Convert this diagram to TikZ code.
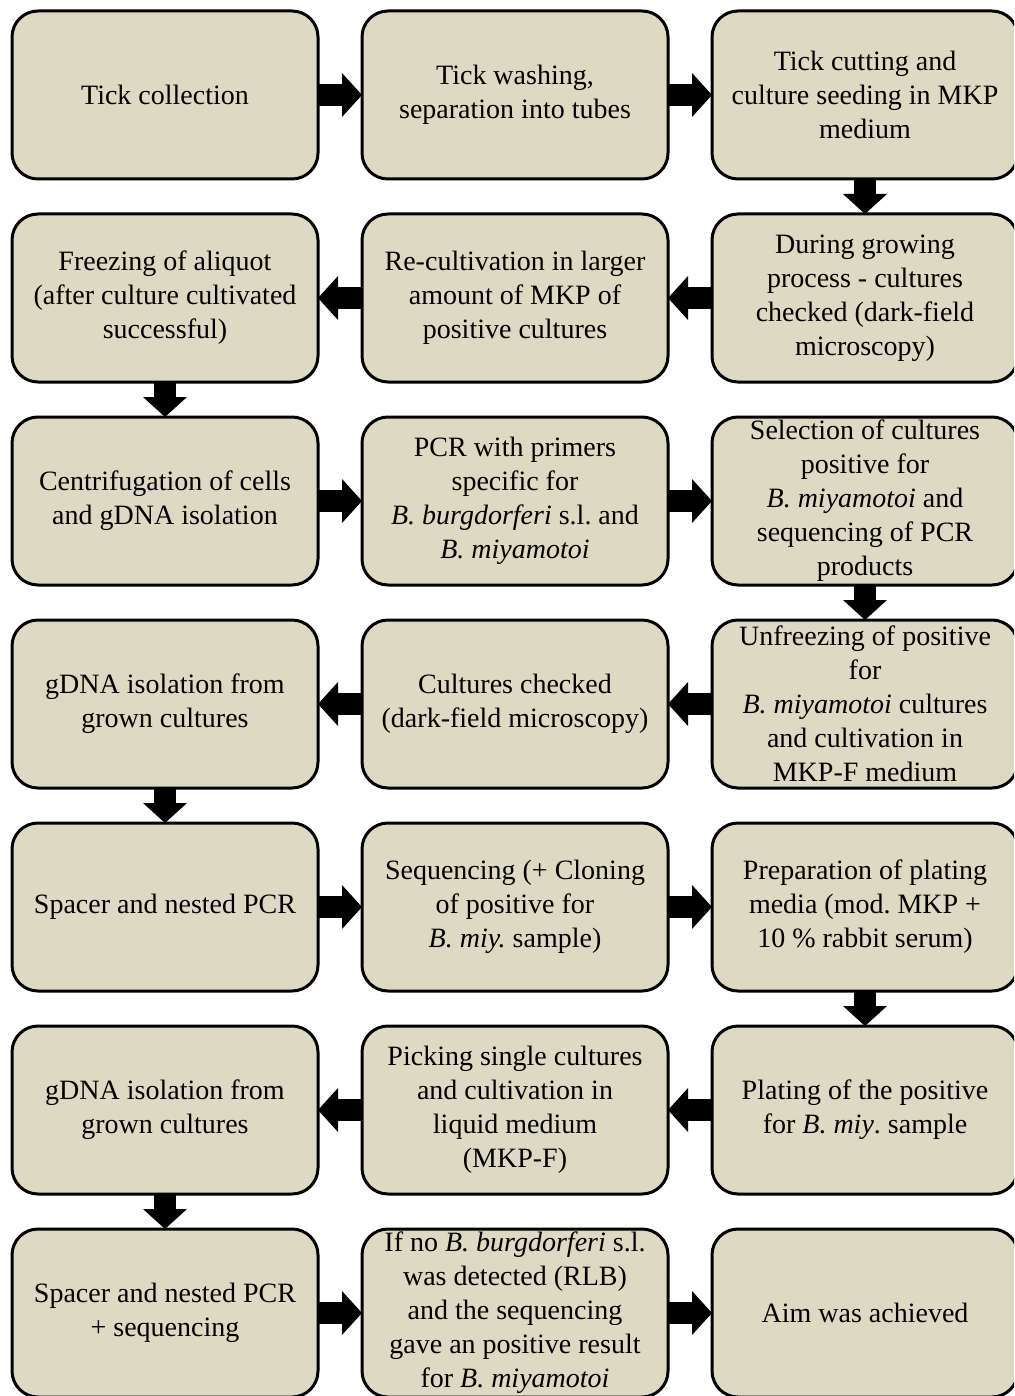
\documentclass[tikz,border=0pt]{standalone}
\usepackage{fontspec}
\setmainfont{Liberation Serif}
\usetikzlibrary{positioning, arrows.meta}
\definecolor{boxtan}{HTML}{DDD9C3}
\frenchspacing

\begin{document}
\begin{tikzpicture}[node distance=17.5pt and 22pt,
        every node/.style={font=\fontsize{14}{17}\selectfont},
        stage/.style={draw, line width=1.5pt, rounded corners=13pt, fill=boxtan,
            minimum width=153pt, minimum height=84pt, inner sep=0pt, outer sep=0pt, align=center},
        flow/.style={line width=11pt, -{Triangle[width=22pt, length=10pt, line width=0pt]}}]

        \useasboundingbox (0,0) rectangle (507pt,-698pt);
        \clip (0,0) rectangle (507pt,-698pt);

        % row 1
        \node[stage] (tick_collection) at (82.5pt,-47.5pt) {Tick collection};
        \node[stage] (tick_washing) [right = of tick_collection] {Tick washing,\\separation into tubes};
        \node[stage] (tick_cutting) [right = of tick_washing] {Tick cutting and\\culture seeding in MKP\\medium};

        % row 2
        \node[stage] (growing_check) [below = of tick_cutting] {During growing\\process - cultures\\checked (dark-field\\microscopy)};
        \node[stage] (recultivation) [left = of growing_check] {Re-cultivation in larger\\amount of MKP of\\positive cultures};
        \node[stage] (freezing) [left = of recultivation] {Freezing of aliquot\\(after culture cultivated\\successful)};

        % row 3
        \node[stage] (centrifugation) [below = of freezing] {Centrifugation of cells\\and gDNA isolation};
        \node[stage] (pcr) [right = of centrifugation] {PCR with primers\\specific for\\\textit{B. burgdorferi} s.l. and\\\textit{B. miyamotoi}};
        \node[stage] (selection) [right = of pcr] {Selection of cultures\\positive for\\\textit{B. miyamotoi} and\\sequencing of PCR\\products};

        % row 4
        \node[stage] (unfreezing) [below = of selection] {Unfreezing of positive\\for\\\textit{B. miyamotoi} cultures\\and cultivation in\\MKP-F medium};
        \node[stage] (cultures_check) [left = of unfreezing] {Cultures checked\\(dark-field microscopy)};
        \node[stage] (gdna_isolation) [left = of cultures_check] {gDNA isolation from\\grown cultures};

        % row 5
        \node[stage] (spacer_pcr) [below = of gdna_isolation] {Spacer and nested PCR};
        \node[stage] (sequencing) [right = of spacer_pcr] {Sequencing (+ Cloning\\of positive for\\\textit{B. miy.} sample)};
        \node[stage] (plating_media) [right = of sequencing] {Preparation of plating\\media (mod. MKP +\\10 \% rabbit serum)};

        % row 6
        \node[stage] (plating) [below = of plating_media] {Plating of the positive\\for \textit{B. miy}. sample};
        \node[stage] (picking) [left = of plating] {Picking single cultures\\and cultivation in\\liquid medium\\(MKP-F)};
        \node[stage] (gdna_isolation_2) [left = of picking] {gDNA isolation from\\grown cultures};

        % row 7
        \node[stage] (spacer_sequencing) [below = of gdna_isolation_2] {Spacer and nested PCR\\+ sequencing};
        \node[stage] (detection) [right = of spacer_sequencing] {If no \textit{B. burgdorferi} s.l.\\was detected (RLB)\\and the sequencing\\gave an positive result\\for \textit{B. miyamotoi}};
        \node[stage] (aim) [right = of detection] {Aim was achieved};

        % paths
        \draw[flow] (tick_collection) -- (tick_washing);
        \draw[flow] (tick_washing) -- (tick_cutting);
        \draw[flow] (tick_cutting) -- (growing_check);
        \draw[flow] (growing_check) -- (recultivation);
        \draw[flow] (recultivation) -- (freezing);
        \draw[flow] (freezing) -- (centrifugation);
        \draw[flow] (centrifugation) -- (pcr);
        \draw[flow] (pcr) -- (selection);
        \draw[flow] (selection) -- (unfreezing);
        \draw[flow] (unfreezing) -- (cultures_check);
        \draw[flow] (cultures_check) -- (gdna_isolation);
        \draw[flow] (gdna_isolation) -- (spacer_pcr);
        \draw[flow] (spacer_pcr) -- (sequencing);
        \draw[flow] (sequencing) -- (plating_media);
        \draw[flow] (plating_media) -- (plating);
        \draw[flow] (plating) -- (picking);
        \draw[flow] (picking) -- (gdna_isolation_2);
        \draw[flow] (gdna_isolation_2) -- (spacer_sequencing);
        \draw[flow] (spacer_sequencing) -- (detection);
        \draw[flow] (detection) -- (aim);

    \end{tikzpicture}
\end{document}
